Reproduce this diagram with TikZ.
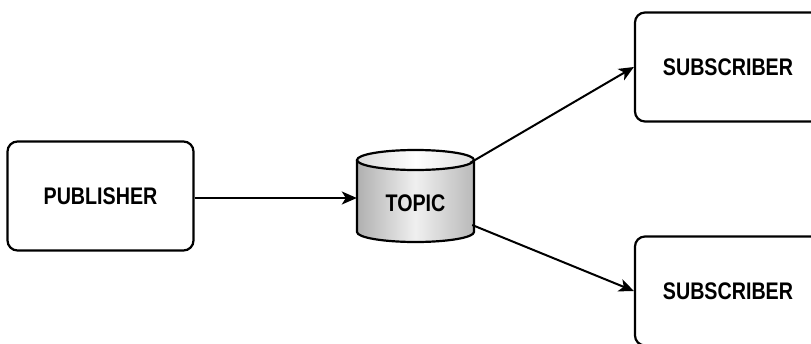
\documentclass[tikz,border=0pt]{standalone}
\usepackage{fontspec}
\setmainfont{Liberation Sans}
\newfontfamily\labelfont[FakeStretch=0.82]{Liberation Sans Bold}
\usetikzlibrary{arrows.meta,calc}
\begin{document}
\begin{tikzpicture}[x=1pt,y=-1pt,
  box/.style={draw=black,line width=2.2pt,rounded corners=10pt,fill=white,
    minimum width=186pt,minimum height=109pt,inner sep=0pt},
  lbl/.style={font=\labelfont\fontsize{24}{26}\selectfont},
  link/.style={line width=2pt,-{Stealth[length=15pt,width=13pt,inset=4pt]}}]
\useasboundingbox (0,0) rectangle (811,343);
\clip (0,0) rectangle (811,343);

% boxes
\node[box,lbl] (pub) at (100.5,196) {PUBLISHER};
\node[box,lbl] (sub1) at (728,67) {SUBSCRIBER};
\node[box,lbl] (sub2) at (728,291) {SUBSCRIBER};

% topic store: shaded cylinder
\def\cx{415.5}\def\rx{58.5}\def\ry{10}\def\ytop{160}\def\ybot{232}
\fill[left color=gray!62,right color=gray!55,middle color=gray!12]
  (\cx-\rx,\ytop) -- (\cx-\rx,\ybot)
  arc[start angle=180,end angle=360,x radius=\rx,y radius=-\ry]
  -- (\cx+\rx,\ytop) -- cycle;
\fill[left color=gray!30,right color=gray!25,middle color=white]
  (\cx,\ytop) ellipse[x radius=\rx,y radius=\ry];
\draw[line width=2.2pt,line join=round]
  (\cx-\rx,\ytop) -- (\cx-\rx,\ybot)
  arc[start angle=180,end angle=360,x radius=\rx,y radius=-\ry]
  -- (\cx+\rx,\ytop);
\draw[line width=2.2pt] (\cx,\ytop) ellipse[x radius=\rx,y radius=\ry];
\node[lbl,minimum width=117pt,minimum height=92pt,inner sep=0pt] (topic)
  at (\cx,203) {TOPIC};

% connectors
\draw[link] ($(pub.east)+(0,2)$) -- (topic.west |- {$(pub.east)+(0,2)$});
\draw[link] ($(topic.north east)+(-4,6)$) -- (sub1.west);
\draw[link] ($(topic.east)+(-2,22)$) -- (sub2.west);
\end{tikzpicture}
\end{document}
